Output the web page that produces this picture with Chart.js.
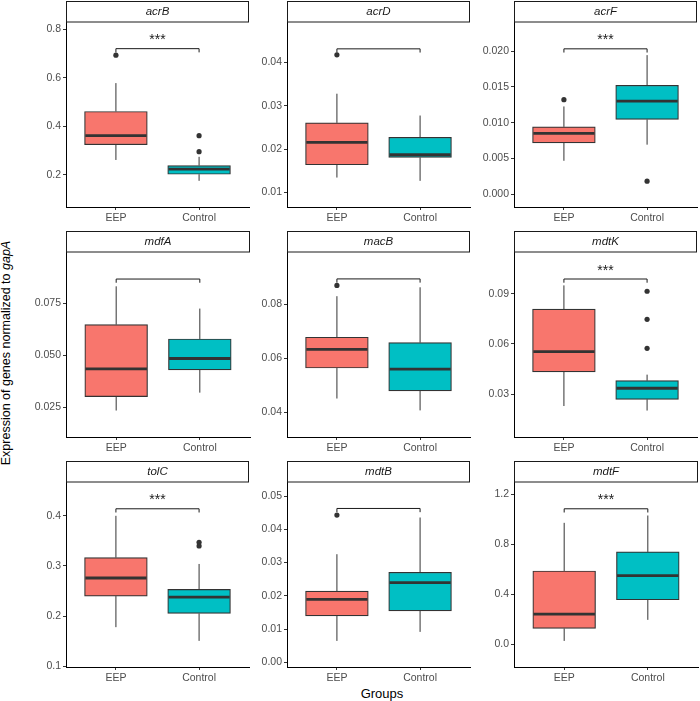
<!DOCTYPE html>
<html>
<head>
<meta charset="utf-8">
<script src="https://cdn.jsdelivr.net/npm/chart.js@4.4.1/dist/chart.umd.min.js"></script>
<style>
  body { margin: 0; background: #fff; }
  #wrap { position: relative; width: 700px; height: 701px; overflow: hidden; font-family: "Liberation Sans", Arial, sans-serif; color: #000; }
  #wrap canvas { position: absolute; }
  .ytitle { position: absolute; width: 500px; left: -243.8px; top: 346px; height: 14px; line-height: 14px; font-size: 12.5px; text-align: center; transform: rotate(-90deg); white-space: nowrap; }
  .xtitle { position: absolute; left: 282px; width: 200px; top: 685.5px; line-height: 15px; font-size: 13px; text-align: center; }
</style>
</head>
<body>
<div id="wrap">
  <div class="ytitle">Expression of genes normalized to <i>gapA</i></div>
  <div class="xtitle">Groups</div>
</div>
<script>
const genes = ['acrB', 'acrD', 'acrF', 'mdfA', 'macB', 'mdtK', 'tolC', 'mdtB', 'mdtF'];
const groups = ['EEP', 'Control'];
const groupColors = ['#F8766D', '#00BFC4'];

// [lower whisker, Q1, median, Q3, upper whisker]
const eepStats = [
  [0.261, 0.324, 0.361, 0.461, 0.578],
  [0.01345, 0.01639, 0.02155, 0.02604, 0.03275],
  [0.00468, 0.00717, 0.00852, 0.00942, 0.01227],
  [0.0236, 0.0303, 0.0436, 0.0649, 0.0833],
  [0.0451, 0.0564, 0.0633, 0.0678, 0.0830],
  [0.0230, 0.0433, 0.0554, 0.0808, 0.0949],
  [0.178, 0.240, 0.276, 0.3167, 0.400],
  [0.00643, 0.01397, 0.01892, 0.02142, 0.0325],
  [0.0273, 0.1269, 0.2418, 0.5871, 0.9727]
];
const controlStats = [
  [0.175, 0.202, 0.223, 0.238, 0.274],
  [0.01269, 0.01808, 0.01870, 0.02271, 0.02773],
  [0.00693, 0.01045, 0.01302, 0.01522, 0.01944],
  [0.0322, 0.0431, 0.0486, 0.0580, 0.0726],
  [0.0407, 0.0479, 0.0560, 0.0658, 0.0863],
  [0.0203, 0.0270, 0.0336, 0.0381, 0.0417],
  [0.1507, 0.2053, 0.238, 0.2533, 0.304],
  [0.00914, 0.01548, 0.02393, 0.02707, 0.04354],
  [0.196, 0.3566, 0.5494, 0.7398, 1.0313]
];
const eepOutliers = [[0.693], [0.0417], [0.01321], [], [0.0870], [], [], [0.04427], []];
const controlOutliers = [[0.361, 0.295], [], [0.00183], [], [], [0.0914, 0.0747, 0.0574], [0.3473, 0.340], [], []];

const yMin = [0.067, 0.00667, -0.00178, 0.01087, 0.03085, 0.00454, 0.0986, -0.00142, -0.1815];
const yMax = [0.830, 0.04926, 0.02407, 0.0998, 0.09937, 0.1148, 0.4674, 0.05422, 1.2996];
const yTicks = [
  [0.2, 0.4, 0.6, 0.8],
  [0.01, 0.02, 0.03, 0.04],
  [0, 0.005, 0.01, 0.015, 0.02],
  [0.025, 0.05, 0.075],
  [0.04, 0.06, 0.08],
  [0.03, 0.06, 0.09],
  [0.1, 0.2, 0.3, 0.4],
  [0, 0.01, 0.02, 0.03, 0.04, 0.05],
  [0, 0.4, 0.8, 1.2]
];
const yTickLabels = [
  ['0.2', '0.4', '0.6', '0.8'],
  ['0.01', '0.02', '0.03', '0.04'],
  ['0.000', '0.005', '0.010', '0.015', '0.020'],
  ['0.025', '0.050', '0.075'],
  ['0.04', '0.06', '0.08'],
  ['0.03', '0.06', '0.09'],
  ['0.1', '0.2', '0.3', '0.4'],
  ['0.00', '0.01', '0.02', '0.03', '0.04', '0.05'],
  ['0.0', '0.4', '0.8', '1.2']
];
const bracketY = [0.72, 0.04308, 0.02032, 0.0868, 0.0894, 0.0987, 0.414, 0.04626, 1.0851];
const bracketLabels = ['***', '', '***', '', '', '***', '***', '', '***'];

// layout
const panelLeft = [66, 287, 514];
const panelTop = [22, 252, 482];
const PANEL_W = 184, PANEL_H = 185, STRIP_H = 21, YAXIS_W = 60, XAXIS_H = 26;
const X_MIN = 0.4, X_MAX = 2.6, BOX_W = 0.75;
const FONT = '"Liberation Sans", Arial, sans-serif';

const boxPlugin = {
    id: 'boxExtras',
    beforeDatasetsDraw(chart, args, opts) {
        const ctx = chart.ctx, xs = chart.scales.x, ys = chart.scales.y;
        ctx.save();
        ctx.strokeStyle = '#333';
        ctx.lineWidth = 1;
        opts.stats.forEach((s, k) => {
            const px = xs.getPixelForValue(k + 1);
            ctx.beginPath();
            ctx.moveTo(px, ys.getPixelForValue(s[0]));
            ctx.lineTo(px, ys.getPixelForValue(s[1]));
            ctx.moveTo(px, ys.getPixelForValue(s[3]));
            ctx.lineTo(px, ys.getPixelForValue(s[4]));
            ctx.stroke();
        });
        ctx.restore();
    },
    afterDatasetsDraw(chart, args, opts) {
        const ctx = chart.ctx, xs = chart.scales.x, ys = chart.scales.y;
        ctx.save();
        // medians
        ctx.strokeStyle = '#333';
        ctx.lineWidth = 2.8;
        opts.stats.forEach((s, k) => {
            const x0 = xs.getPixelForValue(k + 1 - BOX_W / 2);
            const x1 = xs.getPixelForValue(k + 1 + BOX_W / 2);
            const py = ys.getPixelForValue(s[2]);
            ctx.beginPath();
            ctx.moveTo(x0 + 0.6, py);
            ctx.lineTo(x1 - 0.6, py);
            ctx.stroke();
        });
        // significance bracket
        const tip = 0.02 * (ys.max - ys.min);
        const bx0 = xs.getPixelForValue(1), bx1 = xs.getPixelForValue(2);
        const by = ys.getPixelForValue(opts.bracket);
        const bt = ys.getPixelForValue(opts.bracket - tip);
        ctx.strokeStyle = '#1a1a1a';
        ctx.lineWidth = 1;
        ctx.beginPath();
        ctx.moveTo(bx0, bt);
        ctx.lineTo(bx0, by);
        ctx.lineTo(bx1, by);
        ctx.lineTo(bx1, bt);
        ctx.stroke();
        if (opts.label) {
            ctx.fillStyle = '#1a1a1a';
            ctx.font = '14px ' + FONT;
            ctx.textAlign = 'center';
            ctx.textBaseline = 'alphabetic';
            ctx.fillText(opts.label, (bx0 + bx1) / 2, by - 4.5);
        }
        ctx.restore();
    },
    afterDraw(chart, args, opts) {
        const ctx = chart.ctx, a = chart.chartArea;
        ctx.save();
        ctx.fillStyle = '#fff';
        ctx.strokeStyle = '#1a1a1a';
        ctx.lineWidth = 1;
        ctx.fillRect(a.left, 0.5, a.right - a.left, a.top - 0.5);
        ctx.strokeRect(a.left + 0.5, 0.5, a.right - a.left - 1, a.top - 0.5);
        ctx.fillStyle = '#1a1a1a';
        ctx.font = 'italic 11.5px ' + FONT;
        ctx.textAlign = 'center';
        ctx.textBaseline = 'middle';
        ctx.fillText(opts.title, (a.left + a.right) / 2, a.top / 2 + 0.5);
        ctx.restore();
    }
};

const wrap = document.getElementById('wrap');

genes.forEach((gene, i) => {
    const col = i % 3, row = Math.floor(i / 3);
    const canvas = document.createElement('canvas');
    const w = YAXIS_W + PANEL_W + 3, h = STRIP_H + PANEL_H + XAXIS_H;
    canvas.width = w;
    canvas.height = h;
    canvas.style.width = w + 'px';
    canvas.style.height = h + 'px';
    canvas.style.left = (panelLeft[col] - YAXIS_W) + 'px';
    canvas.style.top = (panelTop[row] - STRIP_H) + 'px';
    wrap.appendChild(canvas);

    const stats = [eepStats[i], controlStats[i]];
    const outliers = [];
    eepOutliers[i].forEach(v => outliers.push({ x: 1, y: v }));
    controlOutliers[i].forEach(v => outliers.push({ x: 2, y: v }));

    new Chart(canvas, {
        type: 'bar',
        data: {
            datasets: [
                {
                    label: 'box',
                    data: stats.map((s, k) => ({ x: k + 1, y: [s[1], s[3]] })),
                    backgroundColor: groupColors,
                    borderColor: '#333',
                    borderWidth: 1.2,
                    borderSkipped: false,
                    barThickness: BOX_W * PANEL_W / (X_MAX - X_MIN)
                },
                {
                    type: 'scatter',
                    label: 'outliers',
                    data: outliers,
                    pointRadius: 2.6,
                    pointBackgroundColor: '#333',
                    pointBorderWidth: 0,
                    showLine: false
                }
            ]
        },
        options: {
            responsive: false,
            maintainAspectRatio: false,
            animation: false,
            devicePixelRatio: 1,
            layout: { padding: { top: STRIP_H, right: 3, left: 0, bottom: 0 } },
            plugins: {
                legend: { display: false },
                tooltip: { enabled: false },
                boxExtras: { stats: stats, bracket: bracketY[i], label: bracketLabels[i], title: gene }
            },
            scales: {
                x: {
                    type: 'linear',
                    min: X_MIN,
                    max: X_MAX,
                    offset: false,
                    afterBuildTicks: (s) => { s.ticks = groups.map((g, k) => ({ value: k + 1 })); },
                    afterFit: (s) => { s.height = XAXIS_H; },
                    ticks: {
                        callback: (v) => groups[v - 1],
                        color: '#4d4d4d',
                        font: { family: FONT, size: 10.5 },
                        padding: 2,
                        maxRotation: 0,
                        autoSkip: false
                    },
                    grid: { offset: false, drawOnChartArea: false, tickLength: 3, tickColor: '#333', tickWidth: 1 },
                    border: { display: true, color: '#000', width: 1 }
                },
                y: {
                    type: 'linear',
                    min: yMin[i],
                    max: yMax[i],
                    afterBuildTicks: (s) => { s.ticks = yTicks[i].map(v => ({ value: v })); },
                    afterFit: (s) => { s.width = YAXIS_W; },
                    ticks: {
                        callback: (v) => yTickLabels[i][yTicks[i].indexOf(v)],
                        color: '#4d4d4d',
                        font: { family: FONT, size: 10.5 },
                        padding: 2,
                        autoSkip: false
                    },
                    grid: { drawOnChartArea: false, tickLength: 3, tickColor: '#333', tickWidth: 1 },
                    border: { display: true, color: '#000', width: 1 }
                }
            }
        },
        plugins: [boxPlugin]
    });
});
</script>
</body>
</html>
